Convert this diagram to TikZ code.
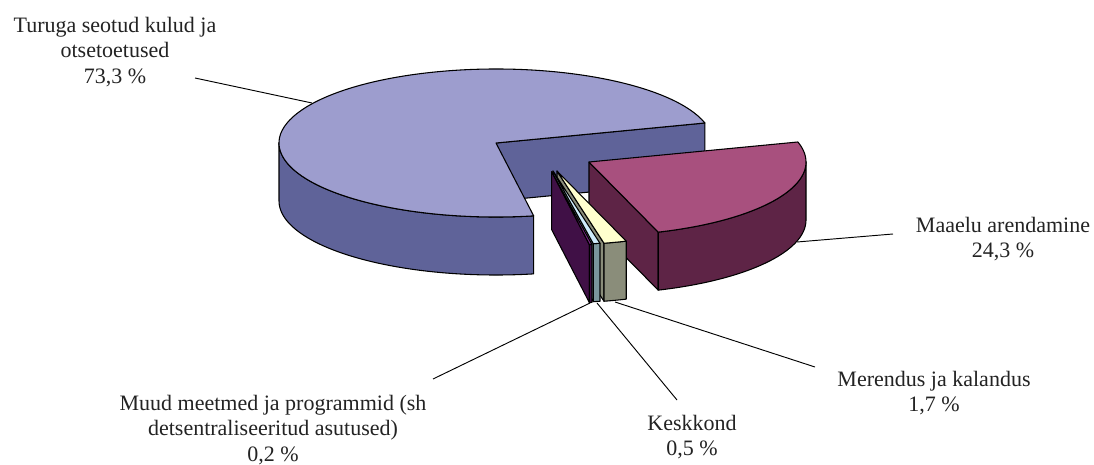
\documentclass[tikz,border=0pt]{standalone}
\usepackage{fontspec}
\setmainfont{Liberation Serif}
\usetikzlibrary{calc}
\definecolor{bigtop}{RGB}{157,157,206}
\definecolor{bigside}{RGB}{95,99,153}
\definecolor{maatop}{RGB}{168,80,126}
\definecolor{maaside}{RGB}{94,36,70}
\definecolor{mertop}{RGB}{255,255,206}
\definecolor{merside}{RGB}{138,141,122}
\definecolor{kestop}{RGB}{206,236,252}
\definecolor{kesside}{RGB}{122,150,156}
\definecolor{muutop}{RGB}{128,40,140}
\definecolor{muuside}{RGB}{64,16,70}
\definecolor{txt}{RGB}{35,35,35}
\def\RX{217}\def\RY{74}\def\D{58}
% #1 center name, #2 t1, #3 t2, #4 side from, #5 side to, #6 top colour, #7 side colour
\newcommand\myslice[7]{%
  \filldraw[facestyle,fill=#7] (#1) -- ($(#1)+(#2:\RX\space and \RY)$) -- ++(0,-\D) -- ($(#1)+(0,-\D)$) -- cycle;
  \filldraw[facestyle,fill=#7] ($(#1)+(#4:\RX\space and \RY)$) arc[start angle=#4, end angle=#5, x radius=\RX, y radius=\RY] -- ++(0,-\D) arc[start angle=#5, end angle=#4, x radius=\RX, y radius=\RY] -- cycle;
  \filldraw[facestyle,fill=#6] (#1) -- ($(#1)+(#2:\RX\space and \RY)$) arc[start angle=#2, end angle=#3, x radius=\RX, y radius=\RY] -- cycle;
}
\tikzset{
  facestyle/.style={draw=black,line width=0.8pt,line join=round},
  leader/.style={draw=black,line width=0.7pt},
  lab/.style={align=center,text=txt,font=\fontsize{16.5}{18.8}\selectfont,inner sep=0pt}
}
\begin{document}
\begin{tikzpicture}[x=0.75pt,y=0.75pt]
\useasboundingbox (0,0) rectangle (1094,-464);
\fill[white] (0,0) rectangle (1094,-464);
% slice centres
\coordinate (cbig) at (496,-143);
\coordinate (cmaa) at (589,-162);
\coordinate (cmer) at (557,-171);
\coordinate (ckes) at (553,-171);
\coordinate (cmuu) at (551.7,-171.7);
% slices, back to front
\myslice{cbig}{15.7}{280}{180}{280}{bigtop}{bigside}
\myslice{cmaa}{-71.4}{15.7}{-71.4}{0}{maatop}{maaside}
\myslice{cmer}{-77.5}{-71.4}{-77.5}{-71.4}{mertop}{merside}
\myslice{ckes}{-79.3}{-77.5}{-79.3}{-77.5}{kestop}{kesside}
\myslice{cmuu}{-80}{-79.3}{-80}{-79.3}{muutop}{muuside}
% labels
\node[lab] (ltur) at (115,-52) {Turuga seotud kulud ja\\otsetoetused\\73,3 \%};
\node[lab] (lmaa) at (1003,-239) {Maaelu arendamine\\24,3 \%};
\node[lab] (lmer) at (934,-393) {Merendus ja kalandus\\1,7 \%};
\node[lab] (lkes) at (692,-437) {Keskkond\\0,5 \%};
\node[lab] (lmuu) at (273,-430) {Muud meetmed ja programmid (sh\\detsentraliseeritud asutused)\\0,2 \%};
% leader lines
\coordinate (atur) at (195,-78);  \coordinate (btur) at (312,-103);
\coordinate (amaa) at (893,-234); \coordinate (bmaa) at (797,-242);
\coordinate (amer) at (815,-367); \coordinate (bmer) at (615,-302);
\coordinate (akes) at (677,-400); \coordinate (bkes) at (597,-303);
\coordinate (amuu) at (433,-379); \coordinate (bmuu) at (590,-303);
\draw[leader] (atur) -- (btur);
\draw[leader] (amaa) -- (bmaa);
\draw[leader] (amer) -- (bmer);
\draw[leader] (akes) -- (bkes);
\draw[leader] (amuu) -- (bmuu);
\end{tikzpicture}
\end{document}
